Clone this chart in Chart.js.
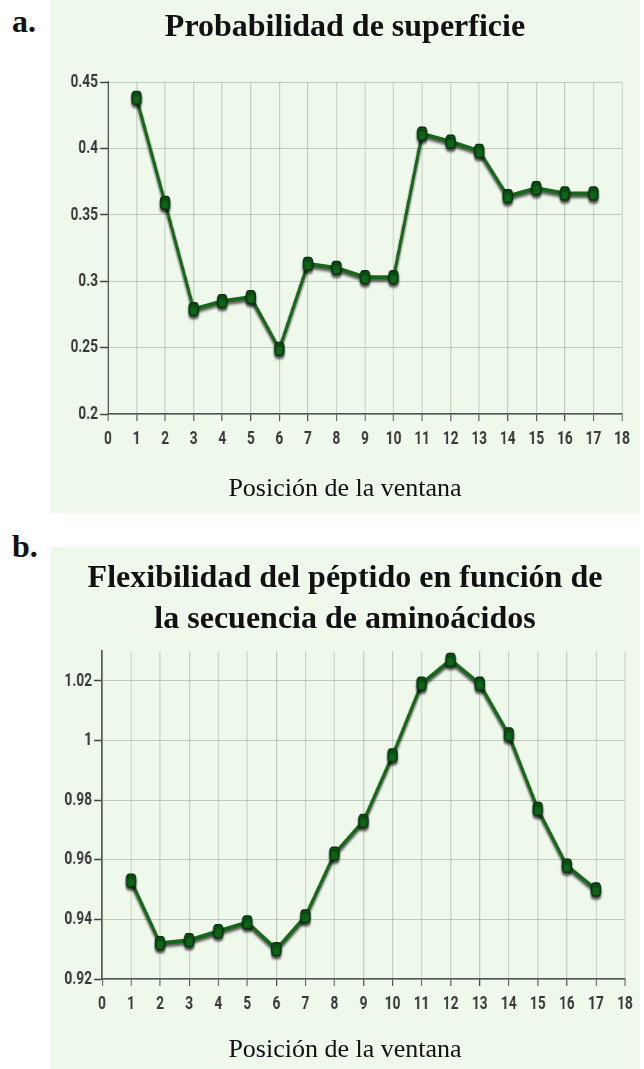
<!DOCTYPE html>
<html>
<head>
<meta charset="utf-8">
<script src="https://cdn.jsdelivr.net/npm/chart.js@4.4.1/dist/chart.umd.min.js"></script>
<style>
  body { margin: 0; width: 644px; height: 1069px; position: relative; background: #fff; overflow: hidden;
         font-family: 'Liberation Serif', 'Times New Roman', serif; }
  .panel { position: absolute; background: #eef8eb; overflow: hidden; }
  .squish { position: absolute; left: 0; top: 0; transform-origin: 0 0; }
  .txt { position: absolute; white-space: nowrap; color: #111; line-height: 1; }
  .lab { font-weight: bold; font-size: 32px; left: 12px; }
  .title { font-weight: bold; font-size: 32px; text-align: center; left: 50px; width: 590px; }
  .axt { font-size: 26px; text-align: center; left: 50px; width: 590px; }
</style>
</head>
<body>
<div class="panel" style="left:50px;top:0;width:590px;height:513px"><div class="squish" id="wrapA"><canvas id="chartA"></canvas></div></div>
<div class="panel" style="left:50px;top:547px;width:590px;height:522px"><div class="squish" id="wrapB"><canvas id="chartB"></canvas></div></div>

<div class="txt lab" style="top:5px">a.</div>
<div class="txt title" style="top:9px">Probabilidad de superficie</div>
<div class="txt axt" style="top:475px">Posición de la ventana</div>

<div class="txt lab" style="top:530px">b.</div>
<div class="txt title" style="top:556px;line-height:41px">Flexibilidad del péptido en función de<br>la secuencia de aminoácidos</div>
<div class="txt axt" style="top:1036px">Posición de la ventana</div>

<script>
// data
const xTicks = [0, 1, 2, 3, 4, 5, 6, 7, 8, 9, 10, 11, 12, 13, 14, 15, 16, 17, 18];
const positions = [1, 2, 3, 4, 5, 6, 7, 8, 9, 10, 11, 12, 13, 14, 15, 16, 17];
const surfaceProb = [0.438, 0.359, 0.279, 0.285, 0.288, 0.249, 0.313, 0.310, 0.303, 0.303,
                     0.411, 0.405, 0.398, 0.364, 0.370, 0.366, 0.366];
const flexibility = [0.953, 0.932, 0.933, 0.936, 0.939, 0.930, 0.941, 0.962, 0.973, 0.995,
                     1.019, 1.027, 1.019, 1.002, 0.977, 0.958, 0.950];
const yTicksA = [0.2, 0.25, 0.3, 0.35, 0.4, 0.45];
const yTicksB = [0.92, 0.94, 0.96, 0.98, 1, 1.02];

// the original picture is squeezed sideways, so the canvas is drawn wider and scaled back
const SX = 0.72;

// soft dark shadow under the line, as in the reference
const shadowPlugin = {
    id: 'lineShadow',
    beforeDatasetsDraw(chart) {
        const c = chart.ctx;
        c.save();
        c.shadowColor = 'rgba(0,0,0,0.7)';
        c.shadowBlur = 3;
        c.shadowOffsetY = 2.5;
    },
    afterDatasetsDraw(chart) {
        chart.ctx.restore();
    }
};

function makeChart(canvasId, wrapId, box, values, yTicks, yMin, yMax) {
    const wrap = document.getElementById(wrapId);
    wrap.style.width = (box.w / SX) + 'px';
    wrap.style.height = box.h + 'px';
    wrap.style.transform = 'scaleX(' + SX + ')';

    const tickFont = { family: 'Roboto, "DejaVu Sans", sans-serif', size: 19, weight: 'bold' };
    const gridColor = 'rgba(70,85,70,0.27)';

    return new Chart(document.getElementById(canvasId), {
        type: 'line',
        data: {
            datasets: [{
                data: positions.map((p, i) => ({ x: p, y: values[i] })),
                borderColor: '#17661a',
                borderWidth: 4,
                pointStyle: 'rectRounded',
                pointRadius: 7.5,
                pointBackgroundColor: '#0f6419',
                pointBorderColor: '#08330f',
                pointBorderWidth: 1.5,
                tension: 0
            }]
        },
        options: {
            responsive: true,
            maintainAspectRatio: false,
            animation: false,
            layout: { padding: { top: box.top, right: box.right / SX, bottom: 0, left: 0 } },
            plugins: { legend: { display: false }, tooltip: { enabled: false } },
            scales: {
                x: {
                    type: 'linear',
                    min: 0,
                    max: 18,
                    afterBuildTicks: s => { s.ticks = xTicks.map(v => ({ value: v })); },
                    afterFit: s => { s.height = box.axisH; },
                    grid: { color: gridColor, lineWidth: 1.4, tickLength: 7, tickColor: '#444', tickWidth: 1.4 },
                    border: { color: '#555', width: 1.5 },
                    ticks: { font: tickFont, color: '#383838', padding: 7, maxRotation: 0, autoSkip: false,
                             callback: v => String(v) }
                },
                y: {
                    type: 'linear',
                    min: yMin,
                    max: yMax,
                    afterBuildTicks: s => { s.ticks = yTicks.map(v => ({ value: v })); },
                    afterFit: s => { s.width = box.left / SX; },
                    grid: { color: gridColor, lineWidth: 1, tickLength: 8 / SX, tickColor: '#444', tickWidth: 1.5 },
                    border: { color: '#555', width: 2 },
                    ticks: { font: tickFont, color: '#383838', padding: 2 / SX, callback: v => String(v) }
                }
            }
        },
        plugins: [shadowPlugin]
    });
}

makeChart('chartA', 'wrapA', { w: 590, h: 513, left: 58, right: 18, top: 82, axisH: 99 },
          surfaceProb, yTicksA, 0.2, 0.45);
makeChart('chartB', 'wrapB', { w: 590, h: 522, left: 52, right: 15, top: 104, axisH: 90 },
          flexibility, yTicksB, 0.92, 1.03);
</script>
</body>
</html>
